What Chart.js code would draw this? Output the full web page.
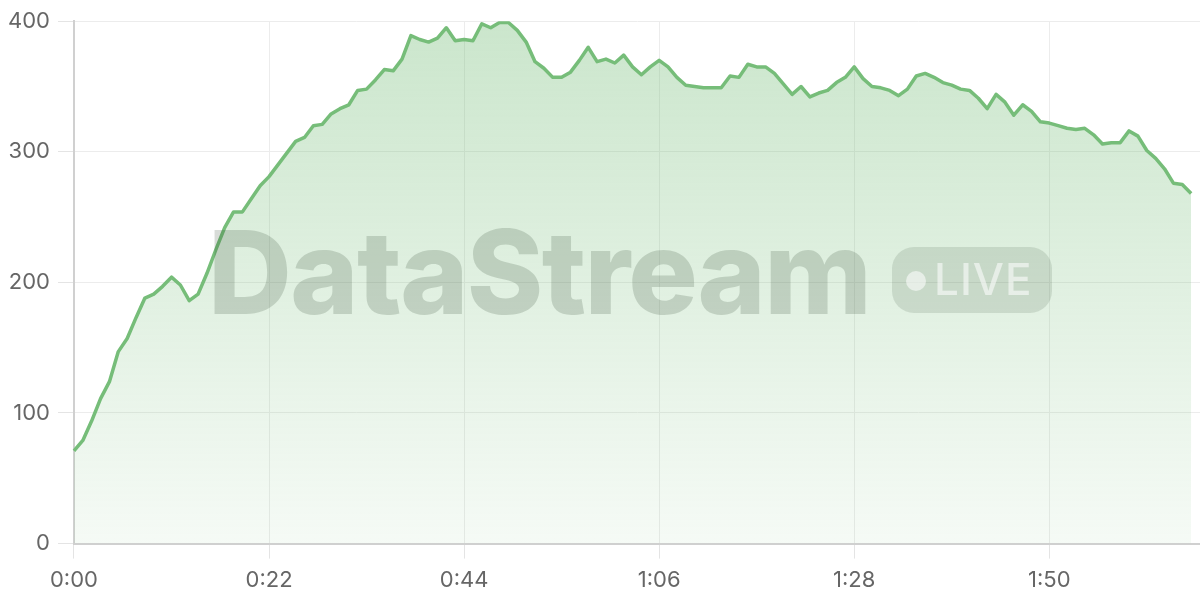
<!DOCTYPE html>
<html>
<head>
<meta charset="utf-8">
<script src="https://cdn.jsdelivr.net/npm/chart.js@4"></script>
<style>
  html, body { margin: 0; padding: 0; background: #fff; }
  #wrap { position: relative; width: 1200px; height: 600px; }
  canvas { display: block; }
  .wm { position: absolute; pointer-events: none; font-family: Inter, "Noto Sans", sans-serif; }
  #wmText { left: 208px; top: 214px; font-size: 116px; line-height: 116px; font-weight: 800; color: rgba(40,60,40,0.18); letter-spacing: -1.6px; white-space: nowrap; }
  #wmBadge { left: 892px; top: 247px; width: 160px; height: 66px; border-radius: 22px; background: rgba(40,60,40,0.13); }
  #wmDot { left: 906px; top: 271px; width: 20px; height: 20px; border-radius: 50%; background: rgba(255,255,255,0.55); }
  #wmLive { left: 934px; top: 257px; font-size: 44px; line-height: 44px; font-weight: 500; color: rgba(255,255,255,0.55); letter-spacing: 1px; white-space: nowrap; }
</style>
</head>
<body>
<div id="wrap">
  <canvas id="c" width="1200" height="600"></canvas>
  <div class="wm" id="wmText">DataStream</div>
  <div class="wm" id="wmBadge"></div>
  <div class="wm" id="wmDot"></div>
  <div class="wm" id="wmLive">LIVE</div>
</div>
<script>
// time labels in seconds (0..127)
const seconds = Array.from({length: 128}, (_, i) => i);
const timeLabels = seconds.map(s => Math.floor(s / 60) + ':' + String(s % 60).padStart(2, '0'));
const tickEvery = 22;
const yTicks = [0, 100, 200, 300, 400];

const values = [
  71, 79, 94, 111, 124, 147, 157, 173, 188, 191,
  197, 204, 198, 186, 191, 207, 225, 242, 254, 254,
  264, 274, 281, 290, 299, 308, 311, 320, 321, 329,
  333, 336, 347, 348, 355, 363, 362, 371, 389, 386,
  384, 387, 395, 385, 386, 385, 398, 395, 399, 399,
  393, 384, 369, 364, 357, 357, 361, 370, 380, 369,
  371, 368, 374, 365, 359, 365, 370, 365, 357, 351,
  350, 349, 349, 349, 358, 357, 367, 365, 365, 360,
  352, 344, 350, 342, 345, 347, 353, 357, 365, 356,
  350, 349, 347, 343, 348, 358, 360, 357, 353, 351,
  348, 347, 341, 333, 344, 338, 328, 336, 331, 323,
  322, 320, 318, 317, 318, 313, 306, 307, 307, 316,
  312, 301, 295, 287, 276, 275, 268
];

function fillGradient(ctx) {
  const area = ctx.chart.chartArea;
  if (!area) return 'rgba(118,189,121,0.2)';
  const g = ctx.chart.ctx.createLinearGradient(0, area.top, 0, area.bottom);
  g.addColorStop(0, 'rgba(118,189,121,0.38)');
  g.addColorStop(1, 'rgba(118,189,121,0.07)');
  return g;
}

new Chart(document.getElementById('c'), {
  type: 'line',
  data: {
    labels: timeLabels,
    datasets: [{
      data: values,
      borderColor: 'rgb(118,189,121)',
      borderWidth: 3.5,
      backgroundColor: fillGradient,
      fill: 'origin',
      pointRadius: 0,
      tension: 0,
      borderJoinStyle: 'round'
    }]
  },
  options: {
    responsive: false,
    animation: false,
    devicePixelRatio: 1,
    layout: { padding: { top: 5, right: 0, bottom: -3, left: 0 } },
    plugins: { legend: { display: false }, tooltip: { enabled: false } },
    scales: {
      x: {
        type: 'category',
        offset: false,
        grid: { color: '#ececec', lineWidth: 1, tickLength: 15, tickColor: '#e4e4e4' },
        border: { color: '#d0d0d0', width: 2 },
        ticks: {
          autoSkip: false,
          maxRotation: 0,
          padding: 9,
          color: '#666',
          font: { family: 'Inter', size: 22 },
          callback: function (v, i) { return i % tickEvery === 0 ? timeLabels[i] : null; }
        }
      },
      y: {
        min: 0, max: 400,
        afterBuildTicks: (axis) => { axis.ticks = yTicks.map(v => ({ value: v })); },
        grid: { color: '#ececec', lineWidth: 1, tickLength: 16, tickColor: '#e4e4e4' },
        border: { color: '#d0d0d0', width: 2 },
        ticks: {
          padding: 8,
          color: '#666',
          font: { family: 'Inter', size: 22 }
        }
      }
    }
  }
});
</script>
</body>
</html>
